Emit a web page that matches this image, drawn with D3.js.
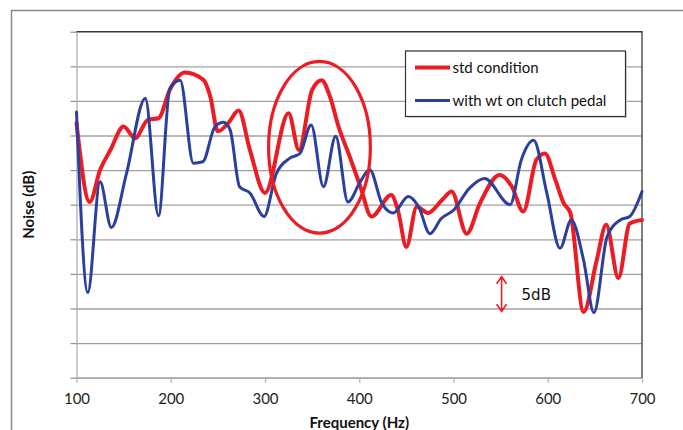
<!DOCTYPE html>
<html>
<head>
<meta charset="utf-8">
<script src="https://cdn.jsdelivr.net/npm/d3@7"></script>
<style>
  html, body { margin: 0; padding: 0; background: #fff; overflow: hidden; }
  svg { display: block; }
</style>
</head>
<body>
<svg id="chart" width="683" height="430"></svg>
<script>
// ---- data ----
const xTicks = [100, 200, 300, 400, 500, 600, 700];
const yTicks = [0, 5, 10, 15, 20, 25, 30, 35, 40, 45, 50];

const stdFreq = [100,114,125,136,150,162,176,187,199,215,235,242,250,261,272,284,300,325,336,350,360,369,378,390,401,413,434,441,450,461,473,488,498,514,528,549,562,574,588,597,608,617,624,638,652,662,675,687,700];
const stdNoise = [36.8,25.4,30.0,32.9,36.3,34.6,37.3,37.5,41.6,44.1,43.0,40.6,35.6,36.8,38.6,32.9,26.7,38.2,32.9,41.6,43.0,40.6,36.3,31.9,27.7,23.3,26.4,24.2,18.9,24.7,23.8,25.7,26.9,20.8,25.2,29.3,27.6,24.0,31.5,32.4,28.6,25.2,23.8,9.5,17.0,22.1,14.4,22.3,22.8];

const wtFreq = [100,112,125,137,153,173,187,199,210,224,234,247,256,263,273,284,299,312,326,337,349,362,375,388,401,411,424,436,452,463,475,487,500,517,533,560,572,585,599,613,625,638,649,663,677,687,700];
const wtNoise = [38.4,12.3,28.3,21.7,29.5,40.4,23.4,41.8,43.0,31.0,31.2,36.3,36.9,35.8,27.6,26.7,23.3,29.5,31.7,32.4,36.5,27.6,34.9,25.4,28.3,30.1,25.2,23.8,26.2,24.7,20.8,23.0,24.2,27.4,28.8,25.0,31.5,34.3,26.7,18.7,22.8,17.0,9.4,20.4,22.8,23.3,26.9];

const seriesNames = ["std condition", "with wt on clutch pedal"];
const seriesColors = ["#ed1c24", "#2b3f9e"];

// highlight ellipse (Hz, dB) and 5 dB scale marker
const ellipseCenter = [357.8, 33.3];
const ellipseRadii = [54, 12.4];
const markerFreq = 551;
const markerRange = [9.6, 14.6];
const markerLabel = "5dB";

// ---- layout ----
const svg = d3.select("#chart");
const L = 76.5, R = 642, T = 31.7, B = 377.7;
const x = d3.scaleLinear().domain([100, 700]).range([L, R]);
const y = d3.scaleLinear().domain([0, 50]).range([B, T]);
const FONT = "Lato, 'Open Sans', sans-serif";

// outer chart frame
svg.append("path")
  .attr("d", `M11.5,${430 + 5} V10.5 H${683 + 5}`)
  .attr("fill", "none").attr("stroke", "#8a8a8a").attr("stroke-width", 1.5);

// gridlines
const gridG = svg.append("g").attr("transform", `translate(${L},0)`)
  .call(d3.axisLeft(y).tickValues(yTicks).tickSize(-(R - L)).tickFormat(""));
gridG.select(".domain").remove();
gridG.selectAll(".tick line").attr("stroke", "#a0a0a0").attr("stroke-width", 1.3);

// y axis with small ticks
const yAx = svg.append("g").attr("transform", `translate(${L},0)`)
  .call(d3.axisLeft(y).tickValues(yTicks).tickSize(6).tickSizeOuter(0).tickFormat(""));
yAx.select(".domain").attr("stroke", "#b0b0b0").attr("stroke-width", 1.3);
yAx.selectAll(".tick line").attr("stroke", "#909090").attr("stroke-width", 1.2);

// x axis
const xAx = svg.append("g").attr("transform", `translate(0,${B})`)
  .call(d3.axisBottom(x).tickValues(xTicks).tickSize(5).tickSizeOuter(0).tickPadding(11));
xAx.select(".domain").attr("stroke", "#a0a0a0").attr("stroke-width", 1.3);
xAx.selectAll(".tick line").attr("stroke", "#b0b0b0").attr("stroke-width", 1.2);
xAx.selectAll(".tick text").attr("font-family", FONT).attr("font-size", 15).attr("fill", "#222");

// plot area top and right border
svg.append("path")
  .attr("d", `M${L},${T} H${R} V${B}`)
  .attr("fill", "none").attr("stroke", "#3a3a3a").attr("stroke-width", 1.3);

// axis titles
svg.append("text")
  .attr("x", (L + R) / 2).attr("y", 428)
  .attr("text-anchor", "middle").attr("font-family", FONT)
  .attr("font-size", 15).attr("font-weight", "bold").attr("fill", "#111")
  .text("Frequency (Hz)");
svg.append("text")
  .attr("transform", `translate(34,${(T + B) / 2}) rotate(-90)`)
  .attr("text-anchor", "middle").attr("font-family", FONT)
  .attr("font-size", 15).attr("font-weight", "bold").attr("fill", "#111")
  .text("Noise (dB)");

// lines
const line = d3.line().x(d => x(d[0])).y(d => y(d[1])).curve(d3.curveMonotoneX);
const stdData = stdFreq.map((f, i) => [f, stdNoise[i]]);
const wtData = wtFreq.map((f, i) => [f, wtNoise[i]]);

svg.append("path").datum(stdData)
  .attr("d", line).attr("fill", "none")
  .attr("stroke", seriesColors[0]).attr("stroke-width", 4)
  .attr("stroke-linejoin", "round").attr("stroke-linecap", "round");
svg.append("path").datum(wtData)
  .attr("d", line).attr("fill", "none")
  .attr("stroke", seriesColors[1]).attr("stroke-width", 3)
  .attr("stroke-linejoin", "round").attr("stroke-linecap", "round");

// ellipse highlight
svg.append("ellipse")
  .attr("cx", x(ellipseCenter[0])).attr("cy", y(ellipseCenter[1]))
  .attr("rx", x(ellipseCenter[0] + ellipseRadii[0]) - x(ellipseCenter[0]))
  .attr("ry", y(ellipseCenter[1]) - y(ellipseCenter[1] + ellipseRadii[1]))
  .attr("fill", "none").attr("stroke", seriesColors[0]).attr("stroke-width", 3.2);

// 5 dB marker
const mx = x(markerFreq), my1 = y(markerRange[1]), my2 = y(markerRange[0]);
svg.append("path")
  .attr("d", `M${mx},${my1} V${my2} M${mx - 5},${my1 + 7} L${mx},${my1} L${mx + 5},${my1 + 7} M${mx - 5},${my2 - 7} L${mx},${my2} L${mx + 5},${my2 - 7}`)
  .attr("fill", "none").attr("stroke", seriesColors[0]).attr("stroke-width", 1.6);
svg.append("text")
  .attr("x", mx + 20).attr("y", (my1 + my2) / 2 + 6)
  .attr("font-family", "'DejaVu Sans', sans-serif").attr("font-size", 15).attr("fill", "#111")
  .text(markerLabel);

// legend
const lg = svg.append("g");
lg.append("rect").attr("x", 407).attr("y", 52.5).attr("width", 220).attr("height", 65.5)
  .attr("fill", "#d8d8d8");
lg.append("rect").attr("x", 405.5).attr("y", 51).attr("width", 220).attr("height", 65.5)
  .attr("fill", "#fff").attr("stroke", "#333").attr("stroke-width", 1.2);
const legendY = [67.5, 100.5];
const legendW = [4, 3];
seriesNames.forEach((name, i) => {
  lg.append("line").attr("x1", 415).attr("x2", 450).attr("y1", legendY[i]).attr("y2", legendY[i])
    .attr("stroke", seriesColors[i]).attr("stroke-width", legendW[i]);
  lg.append("text").attr("x", 452.5).attr("y", legendY[i] + 5)
    .attr("font-family", FONT).attr("font-size", 15).attr("fill", "#111")
    .text(name);
});
</script>
</body>
</html>
